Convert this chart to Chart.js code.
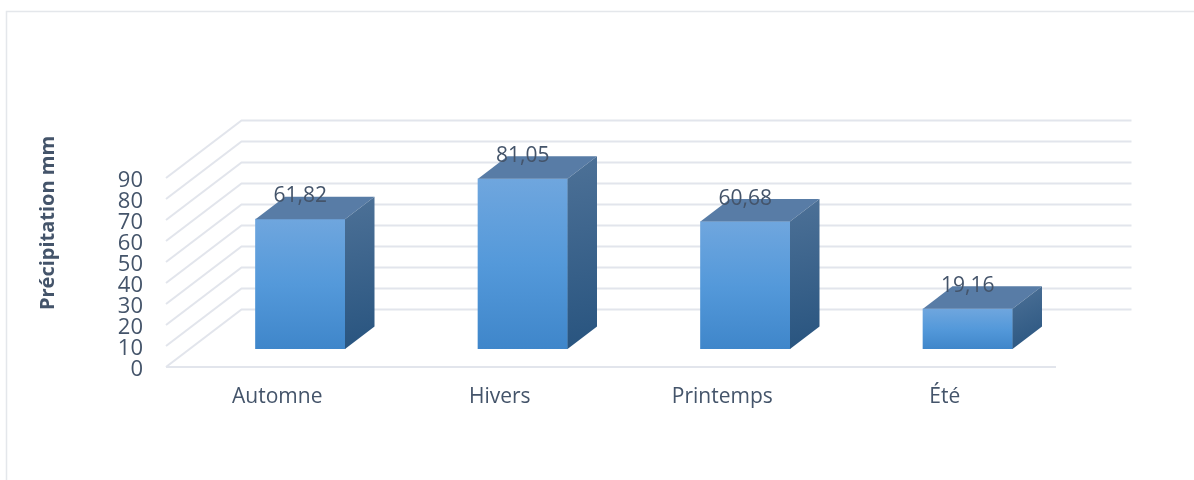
<!DOCTYPE html>
<html><head><meta charset="utf-8">
<style>html,body{margin:0;padding:0;background:#fff}canvas{display:block}</style>
<script src="https://cdn.jsdelivr.net/npm/chart.js@4"></script>
</head><body><canvas id="c" width="1194" height="480"></canvas>
<script>
const categories = ["Automne", "Hivers", "Printemps", "Été"];
const precipitation = [61.82, 81.05, 60.68, 19.16];
const axisTitle = "Précipitation mm";
const FONT = '"Open Sans", sans-serif';
const TEXT = '#44546a';
const GRID = '#e2e5ec';
const WALL = {dx: 75.5, dy: -57.5};
const BAR_SHIFT = {dx: 23, dy: -18};
const BAR_DEPTH = {dx: 29.5, dy: -22.5};

const threeD = {
  id: 'threeD',
  beforeDraw(chart) {
    const {ctx, scales: {x, y}} = chart;
    ctx.save();
    ctx.fillStyle = '#fff';
    ctx.fillRect(0, 0, chart.width, chart.height);
    ctx.strokeStyle = '#e4e7eb';
    ctx.lineWidth = 1.5;
    ctx.beginPath();
    ctx.moveTo(6.5, 480); ctx.lineTo(6.5, 11.5); ctx.lineTo(1194, 11.5);
    ctx.stroke();
    ctx.strokeStyle = GRID;
    ctx.lineWidth = 2;
    y.ticks.forEach(t => {
      const py = y.getPixelForValue(t.value);
      ctx.beginPath();
      ctx.moveTo(x.left, py);
      ctx.lineTo(x.left + WALL.dx, py + WALL.dy);
      ctx.lineTo(x.right + WALL.dx, py + WALL.dy);
      ctx.stroke();
    });
    const p0 = y.getPixelForValue(0);
    ctx.beginPath();
    ctx.moveTo(x.left, p0);
    ctx.lineTo(x.right, p0);
    ctx.stroke();
    ctx.restore();
  },
  beforeDatasetsDraw(chart) {
    chart.ctx.save();
    chart.ctx.translate(BAR_SHIFT.dx, BAR_SHIFT.dy);
  },
  afterDatasetsDraw(chart) {
    const ctx = chart.ctx;
    ctx.restore();
    chart.getDatasetMeta(0).data.forEach(b => {
      const l = b.x - b.width / 2 + BAR_SHIFT.dx, r = b.x + b.width / 2 + BAR_SHIFT.dx;
      const t = b.y + BAR_SHIFT.dy, bt = b.base + BAR_SHIFT.dy;
      const {dx, dy} = BAR_DEPTH;
      ctx.fillStyle = '#587ca6';
      ctx.beginPath();
      ctx.moveTo(l, t); ctx.lineTo(l + dx, t + dy); ctx.lineTo(r + dx, t + dy); ctx.lineTo(r, t);
      ctx.closePath(); ctx.fill();
      const g = ctx.createLinearGradient(r, t + dy, r + dx, bt);
      g.addColorStop(0, '#4d7197');
      g.addColorStop(1, '#28547f');
      ctx.fillStyle = g;
      ctx.beginPath();
      ctx.moveTo(r, t); ctx.lineTo(r + dx, t + dy); ctx.lineTo(r + dx, bt + dy); ctx.lineTo(r, bt);
      ctx.closePath(); ctx.fill();
    });
  },
  afterDraw(chart) {
    const ctx = chart.ctx;
    ctx.save();
    ctx.fillStyle = TEXT;
    ctx.textAlign = 'center';
    ctx.textBaseline = 'middle';
    ctx.font = '21px ' + FONT;
    chart.getDatasetMeta(0).data.forEach((b, i) => {
      ctx.fillText(precipitation[i].toFixed(2).replace('.', ','), b.x + BAR_SHIFT.dx, b.y + BAR_SHIFT.dy - 23);
    });
    ctx.translate(48, 223);
    ctx.rotate(-Math.PI / 2);
    ctx.font = 'bold 20px ' + FONT;
    ctx.fillText(axisTitle, 0, 0);
    ctx.restore();
  }
};

new Chart(document.getElementById('c'), {
  type: 'bar',
  data: {
    labels: categories,
    datasets: [{
      data: precipitation,
      barThickness: 89.5,
      borderWidth: 0,
      backgroundColor(c) {
        const ch = c.chart;
        if (!ch.chartArea || c.parsed === undefined || c.parsed.y === undefined) return '#4f93d6';
        const y = ch.scales.y;
        const g = ch.ctx.createLinearGradient(0, y.getPixelForValue(c.parsed.y), 0, y.getPixelForValue(0));
        g.addColorStop(0, '#6fa6de');
        g.addColorStop(0.5, '#5499da');
        g.addColorStop(1, '#3f86ca');
        return g;
      }
    }]
  },
  plugins: [threeD],
  options: {
    responsive: false,
    animation: false,
    events: [],
    layout: {padding: {top: 178, right: 138, left: 0, bottom: 0}},
    plugins: {legend: {display: false}, tooltip: {enabled: false}},
    scales: {
      x: {
        afterFit(s) { s.height = 113; },
        grid: {display: false},
        border: {display: false},
        ticks: {color: TEXT, font: {family: FONT, size: 21}, padding: 9, maxRotation: 0}
      },
      y: {
        min: 0, max: 90,
        afterFit(s) { s.width = 166; },
        grid: {display: false},
        border: {display: false},
        ticks: {stepSize: 10, autoSkip: false, color: TEXT, font: {family: FONT, size: 22}, padding: 15, labelOffset: 3}
      }
    }
  }
});
</script></body></html>
